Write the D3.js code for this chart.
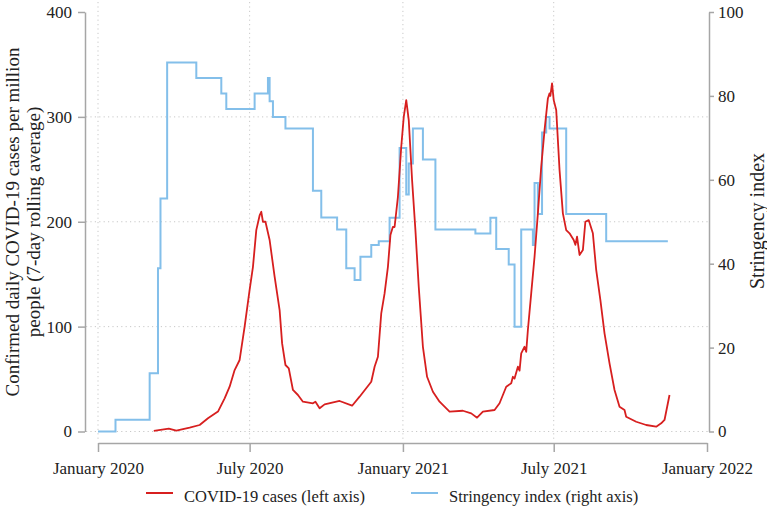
<!DOCTYPE html>
<html>
<head>
<meta charset="utf-8">
<script src="https://cdn.jsdelivr.net/npm/d3@7"></script>
<style>
    body { margin: 0; background: #fff; }
    text { font-family: "Liberation Serif", "DejaVu Serif", serif; fill: #222; }
    .grid line { stroke: #c8c8c8; stroke-width: 1; stroke-dasharray: 1.2 3.2; }
    .axis path, .axis line { stroke: #a6a6a6; stroke-width: 1.5; }
    .axis text { font-size: 17px; fill: #222; }
</style>
</head>
<body>
<div id="chart-div"></div>
<script>

// Stringency index: date of each change and the new level (right axis)
const stringencyDates = [
    "2020-01-01", "2020-01-22", "2020-03-03", "2020-03-13", "2020-03-16", "2020-03-24",
    "2020-04-28", "2020-05-28", "2020-06-03", "2020-07-07", "2020-07-23", "2020-07-25",
    "2020-07-29", "2020-08-13", "2020-09-15", "2020-09-25", "2020-10-14", "2020-10-25",
    "2020-11-04", "2020-11-11", "2020-11-24", "2020-12-03", "2020-12-16", "2020-12-28",
    "2021-01-05", "2021-01-08", "2021-01-13", "2021-01-25", "2021-02-09", "2021-03-29",
    "2021-04-16", "2021-04-23", "2021-05-08", "2021-05-15", "2021-05-23", "2021-06-06",
    "2021-06-08", "2021-06-12", "2021-06-17", "2021-06-22", "2021-06-26", "2021-07-16",
    "2021-09-02", "2021-11-15"
];
const stringencyValues = [
    0, 2.78, 13.89, 38.89, 55.56, 87.96,
    84.26, 80.56, 76.85, 80.56, 84.26, 78.7,
    75.0, 72.22, 57.41, 51.0, 48.15, 38.89,
    36.11, 41.67, 44.44, 45.37, 50.93, 67.59,
    56.48, 63.89, 72.22, 64.81, 48.15, 47.22,
    50.93, 43.52, 39.81, 25.0, 48.15, 44.44,
    59.26, 51.85, 71.3, 75.0, 72.22, 51.85,
    45.37, 45.37
];

// Confirmed daily cases per million, 7-day rolling average (left axis)
const caseDates = [
    "2020-03-08", "2020-03-26", "2020-04-04", "2020-04-20", "2020-05-02", "2020-05-12",
    "2020-05-24", "2020-06-01", "2020-06-07", "2020-06-13", "2020-06-19", "2020-06-25",
    "2020-07-01", "2020-07-05", "2020-07-09", "2020-07-13", "2020-07-15", "2020-07-17",
    "2020-07-20", "2020-07-25", "2020-07-31", "2020-08-06", "2020-08-09", "2020-08-13",
    "2020-08-17", "2020-08-22", "2020-08-28", "2020-09-03", "2020-09-15", "2020-09-18",
    "2020-09-23", "2020-09-29", "2020-10-17", "2020-11-01", "2020-11-10", "2020-11-24",
    "2020-11-28", "2020-12-02", "2020-12-06", "2020-12-10", "2020-12-14", "2020-12-17",
    "2020-12-20", "2020-12-22", "2020-12-26", "2020-12-30", "2021-01-02", "2021-01-05",
    "2021-01-08", "2021-01-12", "2021-01-16", "2021-01-20", "2021-01-25", "2021-01-30",
    "2021-02-06", "2021-02-14", "2021-02-26", "2021-03-14", "2021-03-24", "2021-03-31",
    "2021-04-07", "2021-04-21", "2021-04-27", "2021-05-05", "2021-05-11", "2021-05-13",
    "2021-05-15", "2021-05-19", "2021-05-21", "2021-05-23", "2021-05-27", "2021-05-29",
    "2021-05-31", "2021-06-04", "2021-06-08", "2021-06-12", "2021-06-16", "2021-06-20",
    "2021-06-24", "2021-06-26", "2021-06-27", "2021-06-29", "2021-07-01", "2021-07-04",
    "2021-07-08", "2021-07-12", "2021-07-16", "2021-07-20", "2021-07-25", "2021-07-27",
    "2021-07-29", "2021-08-01", "2021-08-05", "2021-08-08", "2021-08-12", "2021-08-17",
    "2021-08-21", "2021-08-26", "2021-08-31", "2021-09-06", "2021-09-12", "2021-09-18",
    "2021-09-24", "2021-09-26", "2021-10-08", "2021-10-20", "2021-11-01", "2021-11-07",
    "2021-11-11", "2021-11-17"
];
const caseValues = [
    0.5, 2.7, 0.8, 3.6, 6.2, 12.6,
    19, 31.6, 42.7, 58.6, 68.2, 100,
    135, 157, 192, 206, 209.5, 200,
    200, 182.6, 147.6, 115.8, 84, 63.4,
    60.2, 39.6, 34.8, 28.4, 26.9, 28.4,
    22.1, 25.9, 29.1, 24.6, 33.2, 47.5,
    61.8, 71.3, 112.7, 131.7, 157, 187.3,
    195.2, 195, 223.8, 271.5, 300, 316,
    297, 239.8, 192, 138, 80.8, 52.2,
    37.9, 28.4, 18.9, 19.8, 17.3, 13.2,
    18.9, 20.5, 26.9, 42.7, 46, 52.2,
    50.5, 61.8, 58, 74.5, 80.8, 76,
    96.8, 131.7, 166.6, 208, 252.4, 287.4,
    317.6, 322.4, 320, 331.9, 316, 306.5,
    249.3, 208, 192, 189, 182.6, 178,
    185.7, 168.3, 173, 200, 201.6, 189,
    154, 125.4, 93.6, 65, 39.6, 23.6,
    20.5, 14.1, 9.3, 6.2, 4.6, 7.8,
    11, 34.8
];

const xTickDates = ["2020-01-01", "2020-07-01", "2021-01-01", "2021-07-01", "2022-01-01"];
const xTickLabels = ["January 2020", "July 2020", "January 2021", "July 2021", "January 2022"];
const leftTicks = [0, 100, 200, 300, 400];
const rightTicks = [0, 20, 40, 60, 80, 100];
const legendLabels = ["COVID-19 cases (left axis)", "Stringency index (right axis)"];

const caseColor = "#d71f1f";
const stringencyColor = "#83bfea";

function drawChart() {

    const parse = d3.timeParse("%Y-%m-%d");
    const svgDims = { width: 767, height: 508 };

    const svg = d3.select("#chart-div")
        .append("svg")
        .attr("width", svgDims.width)
        .attr("height", svgDims.height);

    const plot = { left: 98, right: 707, top: 12, bottom: 431.5 };

    const xScale = d3.scaleTime()
        .domain([parse("2020-01-01"), parse("2022-01-01")])
        .range([plot.left, plot.right]);
    const yLeft = d3.scaleLinear().domain([0, 400]).range([plot.bottom, plot.top]);
    const yRight = d3.scaleLinear().domain([0, 100]).range([plot.bottom, plot.top]);

    const xTicks = xTickDates.map(parse);

    // dotted grid
    const grid = svg.append("g").attr("class", "grid");
    grid.selectAll(".h").data(leftTicks.slice(0, 4)).enter().append("line")
        .attr("x1", 86).attr("x2", 708)
        .attr("y1", d => yLeft(d)).attr("y2", d => yLeft(d));
    grid.selectAll(".v").data(xTicks.slice(0, 4)).enter().append("line")
        .attr("x1", d => xScale(d)).attr("x2", d => xScale(d))
        .attr("y1", 2).attr("y2", 441);

    // left axis
    svg.append("g")
        .attr("class", "axis")
        .attr("transform", "translate(85,0)")
        .call(d3.axisLeft(yLeft).tickValues(leftTicks).tickSize(7).tickSizeOuter(0).tickPadding(6));

    // right axis
    svg.append("g")
        .attr("class", "axis")
        .attr("transform", "translate(709,0)")
        .call(d3.axisRight(yRight).tickValues(rightTicks).tickSize(5).tickSizeOuter(0).tickPadding(4));

    // bottom axis
    svg.append("g")
        .attr("class", "axis")
        .attr("transform", "translate(0,443)")
        .call(d3.axisBottom(xScale).tickValues(xTicks).tickSize(9).tickSizeOuter(0).tickPadding(10)
            .tickFormat((d, i) => xTickLabels[i]));

    // axis titles
    svg.append("text")
        .attr("transform", "translate(19,222) rotate(-90)")
        .attr("text-anchor", "middle")
        .style("font-size", "19px")
        .text("Confirmed daily COVID-19 cases per million");
    svg.append("text")
        .attr("transform", "translate(40,222) rotate(-90)")
        .attr("text-anchor", "middle")
        .style("font-size", "19px")
        .text("people (7-day rolling average)");
    svg.append("text")
        .attr("transform", "translate(764,221) rotate(-90)")
        .attr("text-anchor", "middle")
        .style("font-size", "20px")
        .text("Stringency index");

    // stringency index, step line
    const stringency = stringencyDates.map((d, i) => ({ date: parse(d), value: stringencyValues[i] }));
    svg.append("path")
        .datum(stringency)
        .attr("fill", "none")
        .attr("stroke", stringencyColor)
        .attr("stroke-width", 2)
        .attr("d", d3.line().curve(d3.curveStepAfter)
            .x(d => xScale(d.date))
            .y(d => yRight(d.value)));

    // covid cases
    const cases = caseDates.map((d, i) => ({ date: parse(d), value: caseValues[i] }));
    svg.append("path")
        .datum(cases)
        .attr("fill", "none")
        .attr("stroke", caseColor)
        .attr("stroke-width", 1.8)
        .attr("stroke-linejoin", "round")
        .attr("d", d3.line()
            .x(d => xScale(d.date))
            .y(d => yLeft(d.value)));

    // legend
    const legendX = [146, 411];
    const legendColors = [caseColor, stringencyColor];
    const legend = svg.append("g");
    legendLabels.forEach((label, i) => {
        legend.append("line")
            .attr("x1", legendX[i]).attr("x2", legendX[i] + 27)
            .attr("y1", 493).attr("y2", 493)
            .attr("stroke", legendColors[i])
            .attr("stroke-width", 2);
        legend.append("text")
            .attr("x", legendX[i] + 38)
            .attr("y", 502)
            .style("font-size", "16.5px")
            .text(label);
    });
}

drawChart();
</script>
</body>
</html>
